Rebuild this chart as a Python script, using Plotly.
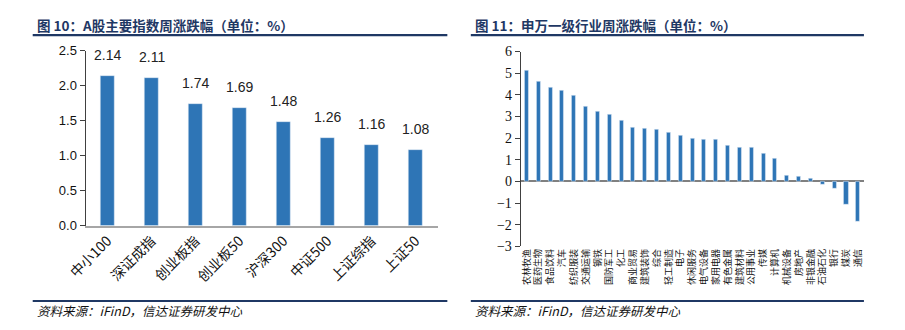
import plotly.graph_objects as go

# ---------------- data ----------------
idx_names = ["中小100", "深证成指", "创业板指", "创业板50", "沪深300", "中证500", "上证综指", "上证50"]
idx_values = [2.14, 2.11, 1.74, 1.69, 1.48, 1.26, 1.16, 1.08]

ind_names = ["农林牧渔", "医药生物", "食品饮料", "汽车", "纺织服装", "交通运输", "钢铁", "国防军工",
             "化工", "商业贸易", "建筑装饰", "综合", "轻工制造", "电子", "休闲服务", "电气设备",
             "家用电器", "有色金属", "建筑材料", "公用事业", "传媒", "计算机", "机械设备", "房地产",
             "非银金融", "石油石化", "银行", "煤炭", "通信"]
ind_values = [5.12, 4.60, 4.34, 4.22, 3.96, 3.46, 3.21, 3.10, 2.79, 2.49, 2.44, 2.38, 2.26, 2.11,
              1.99, 1.91, 1.91, 1.65, 1.57, 1.56, 1.28, 1.04, 0.29, 0.21, 0.12, -0.13, -0.35, -1.09, -1.87]

left_title = "图 10：A股主要指数周涨跌幅（单位：%）"
right_title = "图 11：申万一级行业周涨跌幅（单位：%）"
source_text = "资料来源：iFinD，信达证券研发中心"

# ---------------- styling ----------------
W, H = 905, 330
BAR = "#2E75B6"
NAVY = "#1F3864"
CJK = "Noto Sans CJK SC"


def px(x):
    return x / W


def py(y):
    return 1 - y / H


fig = go.Figure()

fig.add_trace(go.Bar(x=idx_names, y=idx_values, marker_color=BAR, width=0.31,
                     xaxis="x", yaxis="y", showlegend=False, hoverinfo="x+y"))
fig.add_trace(go.Bar(x=ind_names, y=ind_values, marker_color=BAR, width=0.34,
                     xaxis="x2", yaxis="y2", showlegend=False, hoverinfo="x+y"))

annotations = []
for n, v in zip(idx_names, idx_values):
    annotations.append(dict(x=n, y=v, xref="x", yref="y", text=f"{v:.2f}", showarrow=False,
                            yanchor="bottom", yshift=11,
                            font=dict(family="Liberation Sans, Arial", size=14, color="#222222")))

# titles
for x0, t in [(15, left_title), (463, right_title)]:
    annotations.append(dict(x=px(x0), y=py(19), xref="paper", yref="paper", text=f"<b>{t}</b>",
                            showarrow=False, xanchor="left", yanchor="middle",
                            font=dict(family=CJK, size=13.5, color=NAVY)))
# sources
for x0 in [15, 463]:
    annotations.append(dict(x=px(x0), y=py(318), xref="paper", yref="paper", text=f"<i>{source_text}</i>",
                            showarrow=False, xanchor="left", yanchor="middle",
                            font=dict(family=CJK, size=12.5, color="#111111")))

shapes = []
for (a, b) in [(13, 437), (461, 863)]:
    for yy in (29.5, 308):
        shapes.append(dict(type="line", xref="paper", yref="paper", x0=px(a), x1=px(b),
                           y0=py(yy), y1=py(yy), line=dict(color=NAVY, width=2.2)))

fig.update_layout(
    width=W, height=H, margin=dict(l=0, r=0, t=0, b=0),
    paper_bgcolor="white", plot_bgcolor="white", bargap=0,
    annotations=annotations, shapes=shapes,
    xaxis=dict(domain=[px(67), px(427)], anchor="y", showgrid=False, zeroline=False,
               showline=True, linecolor="#A6A6A6", linewidth=1.5, ticks="",
               tickangle=-45, tickfont=dict(family=CJK, size=14, color="#111111")),
    yaxis=dict(domain=[py(229), py(46)], anchor="x", range=[0, 2.5], dtick=0.5, tickformat=".1f",
               showgrid=False, zeroline=False, showline=True, linecolor="#404040", linewidth=1,
               ticks="outside", ticklen=5, tickcolor="#404040",
               tickfont=dict(family="Liberation Sans, Arial", size=13, color="#111111")),
    xaxis2=dict(domain=[px(512), px(863)], anchor="y2", showgrid=False, zeroline=False,
                showline=False, ticks="", tickangle=-90,
                tickfont=dict(family=CJK, size=9, color="#111111")),
    yaxis2=dict(domain=[py(250.7), py(46.7)], anchor="x2", range=[-3, 6], dtick=1,
                showgrid=False, zeroline=True, zerolinecolor="#808080", zerolinewidth=1.5,
                showline=True, linecolor="#404040", linewidth=1,
                ticks="outside", ticklen=5, tickcolor="#404040",
                tickfont=dict(family="Liberation Serif, Times New Roman", size=14, color="#111111")),
)

fig.write_html("out.html")
